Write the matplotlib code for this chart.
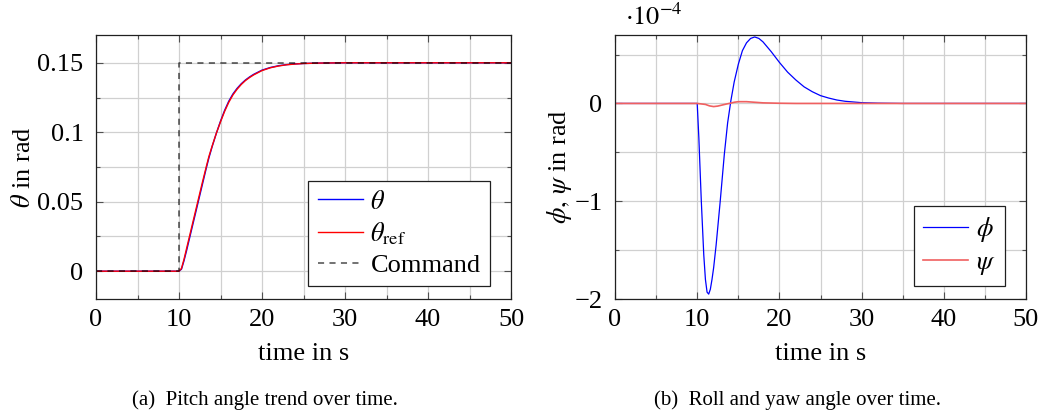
import numpy as np
import matplotlib
matplotlib.use("Agg")
import matplotlib.pyplot as plt
from matplotlib.ticker import MultipleLocator

plt.rcParams['font.family'] = ['Liberation Serif', 'DejaVu Serif']
plt.rcParams['mathtext.fontset'] = 'stix'

# pitch
t_theta = [0, 10, 10.3, 10.6, 10.9, 11.3, 11.8, 12.3, 12.8, 13.3, 13.6, 14, 14.5, 15, 15.5,
           16, 16.5, 17, 17.5, 18, 18.5, 19, 20, 21, 22, 23, 24, 25, 27, 30, 50]
theta = [0, 0, 0.0015, 0.0075, 0.0145, 0.0245, 0.037, 0.0495, 0.062, 0.0745, 0.0815,
         0.0898, 0.0993, 0.1080, 0.1158, 0.1224, 0.1276, 0.1316, 0.1349, 0.1376, 0.1398,
         0.1417, 0.1447, 0.1466, 0.1479, 0.1487, 0.1492, 0.1495, 0.1498, 0.15, 0.15]
theta_ref = [0, 0, 0.002, 0.0085, 0.016, 0.026, 0.0385, 0.051, 0.0635, 0.0755, 0.0825,
             0.0902, 0.0993, 0.1075, 0.1151, 0.1216, 0.1269, 0.1310, 0.1344, 0.1372, 0.1394,
             0.1413, 0.1444, 0.1464, 0.1477, 0.1486, 0.1491, 0.1495, 0.1498, 0.15, 0.15]
t_cmd = [0, 10, 10, 50]
cmd = [0, 0, 0.15, 0.15]

# roll / yaw in 1e-4 rad
t_phi = [0, 10, 10.2, 10.5, 10.8, 11.0, 11.2, 11.4, 11.6, 11.8, 12.0, 12.3, 12.8, 13.3,
         13.7, 14.1, 14.5, 15, 15.5, 16, 16.5, 17, 17.5, 18, 19, 20, 21, 22, 23, 24, 25,
         26, 27, 28, 30, 32, 35, 50]
phi = [0, 0, -0.35, -1.0, -1.55, -1.8, -1.93, -1.95, -1.9, -1.8, -1.68, -1.45, -1.0, -0.52,
       -0.2, 0.03, 0.22, 0.4, 0.54, 0.62, 0.665, 0.68, 0.665, 0.63, 0.53, 0.42, 0.32, 0.24,
       0.17, 0.12, 0.08, 0.055, 0.035, 0.022, 0.008, 0.003, 0.0, 0.0]
t_psi = [0, 10, 11, 11.5, 12, 12.5, 13, 13.5, 14, 14.5, 15, 16, 17, 18, 20, 22, 50]
psi = [0, 0, -0.01, -0.025, -0.032, -0.027, -0.017, -0.007, 0.002, 0.012, 0.018, 0.018,
       0.012, 0.006, 0.002, 0.0, 0.0]

FS = 19

fig = plt.figure(figsize=(10.48, 4.16), dpi=100)
ax1 = fig.add_axes([96 / 1048, 1 - 299 / 416, 415 / 1048, 264 / 416])
ax2 = fig.add_axes([615 / 1048, 1 - 299 / 416, 411 / 1048, 264 / 416])


def style(ax):
    ax.grid(True, which='both', color='#d0d0d0', linewidth=0.9)
    ax.set_axisbelow(True)
    ax.tick_params(which='both', direction='in', top=True, right=True,
                   color='#505050', labelsize=FS)
    ax.tick_params(axis='y', pad=9)
    ax.tick_params(axis='x', pad=7)
    ax.tick_params(which='major', length=5, width=0.8)
    ax.tick_params(which='minor', length=3, width=0.8)
    for s in ax.spines.values():
        s.set_linewidth(0.9)
        s.set_color('#202020')
    ax.set_xlim(0, 50)
    ax.xaxis.set_major_locator(MultipleLocator(10))
    ax.xaxis.set_minor_locator(MultipleLocator(5))
    ax.set_xlabel('time in s', fontsize=FS, labelpad=9)


def add_legend(ax):
    leg = ax.legend(loc='lower right', bbox_to_anchor=(0.949, 0.049), borderaxespad=0,
                    fontsize=FS, fancybox=False, framealpha=1, edgecolor='#202020',
                    handlelength=1.7, handletextpad=0.3, labelspacing=0.25, borderpad=0.35)
    leg.get_frame().set_linewidth(0.9)


style(ax1)
ax1.plot(t_theta, theta, color='blue', lw=1.0, label=r'$\theta$')
ax1.plot(t_theta, theta_ref, color='red', lw=1.0, label=r'$\theta_{\mathrm{ref}}$')
ax1.plot(t_cmd, cmd, color='black', lw=1.1, ls=(0, (4, 3.5)), alpha=0.7, label='Command')
ax1.set_ylim(-0.02, 0.17)
ax1.yaxis.set_minor_locator(MultipleLocator(0.025))
ax1.set_yticks([0, 0.05, 0.1, 0.15])
ax1.set_yticklabels(['0', '0.05', '0.1', '0.15'])
ax1.set_ylabel(r'$\theta$ in rad', fontsize=FS, labelpad=2)
add_legend(ax1)

style(ax2)
ax2.plot(t_phi, phi, color='blue', lw=0.9, label=r'$\phi$')
ax2.plot(t_psi, psi, color='#f06060', lw=1.2, label=r'$\psi$')
ax2.set_ylim(-2, 0.7)
ax2.yaxis.set_minor_locator(MultipleLocator(0.5))
ax2.set_yticks([-2, -1, 0])
ax2.set_yticklabels(['\u22122', '\u22121', '0'])
ax2.set_ylabel(r'$\phi,\,\psi$ in rad', fontsize=FS, labelpad=0)
ax2.text(625 / 1048, 1 - 17 / 416, r'$\cdot 10^{-4}$', transform=fig.transFigure,
         fontsize=FS, ha='left', va='center')
add_legend(ax2)

fig.text(265 / 1048, 1 - 400 / 416, '(a)  Pitch angle trend over time.', fontsize=15,
         ha='center', va='center')
fig.text(797 / 1048, 1 - 400 / 416, '(b)  Roll and yaw angle over time.', fontsize=15,
         ha='center', va='center')

fig.savefig('out.png', dpi=100)
